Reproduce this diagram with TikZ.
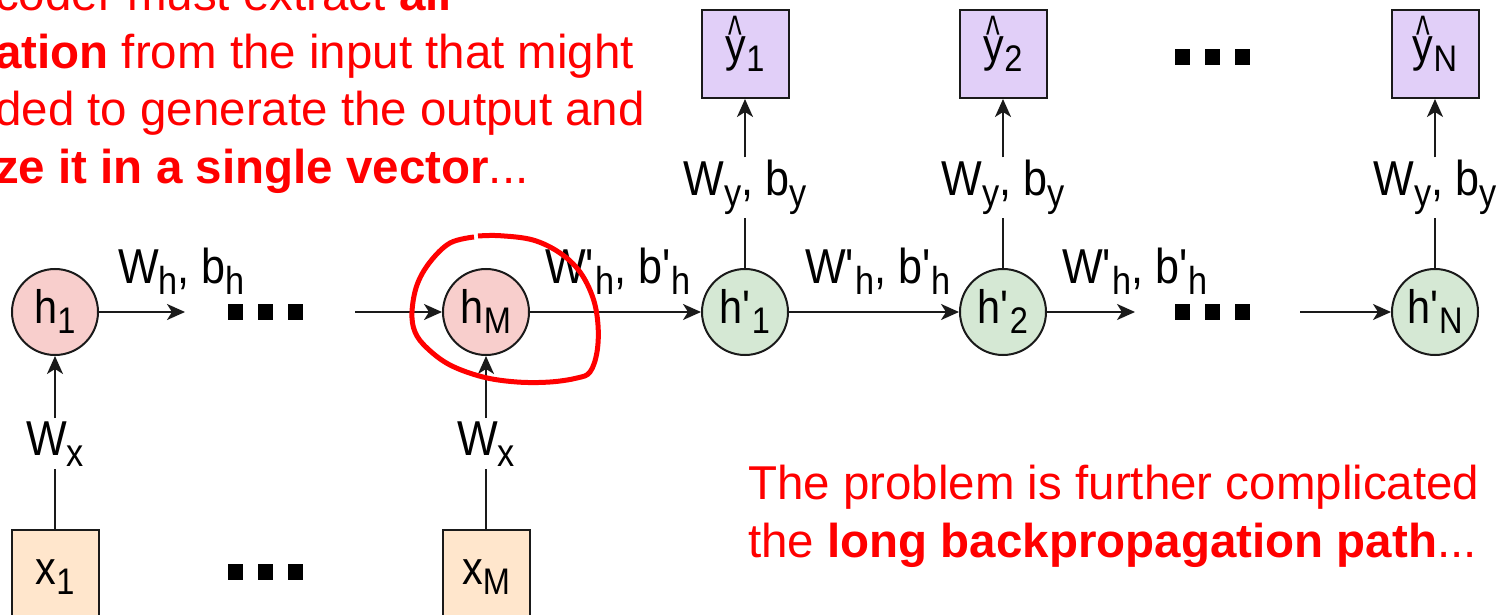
\documentclass[tikz,border=0pt]{standalone}
\usepackage{fontspec}
\usepackage{graphicx}
\setmainfont{Liberation Sans}
\newfontfamily\diagfont[FakeStretch=0.88]{Liberation Sans}
\usetikzlibrary{arrows.meta}
\definecolor{pinkf}{HTML}{F8CECC}
\definecolor{greenf}{HTML}{D5E8D4}
\definecolor{orangef}{HTML}{FFE6CC}
\definecolor{purplef}{HTML}{E1CFF8}
\definecolor{redt}{HTML}{FF0000}
\definecolor{ink}{HTML}{1A1A1A}
\newcommand{\nsub}[1]{\raisebox{-10pt}{\fontsize{37}{37}\selectfont #1}}
\newcommand{\lsub}[1]{\raisebox{-11pt}{\fontsize{39}{39}\selectfont #1}}
\newcommand{\sqdots}{\rule{15pt}{16pt}\hspace{15pt}\rule{15pt}{16pt}\hspace{15pt}\rule{15pt}{16pt}}
\newcommand{\yhat}{\makebox[0pt][l]{\makebox[20pt]{\raisebox{9pt}{\fontsize{44}{44}\selectfont\scalebox{0.75}[1.2]{\textasciicircum}}}}y}
\newcommand{\pr}{\textquotesingle}
\tikzset{
  hstate/.style={circle, draw=ink, line width=2pt, minimum size=86pt, inner sep=0pt,
    text height=33pt, text depth=10pt, font=\diagfont\fontsize{47}{47}\selectfont},
  enc/.style={hstate, fill=pinkf},
  dec/.style={hstate, fill=greenf},
  sqbox/.style={rectangle, draw=ink, line width=2pt, minimum width=87pt, minimum height=88pt, inner sep=0pt,
    font=\diagfont\fontsize{47}{47}\selectfont},
  inbox/.style={sqbox, fill=orangef, text height=30pt, text depth=10pt},
  outbox/.style={sqbox, fill=purplef, text height=36pt, text depth=20pt},
  wlabel/.style={font=\diagfont\fontsize{49}{49}\selectfont, inner sep=3pt, anchor=base},
  hlabel/.style={font=\diagfont\fontsize{49}{49}\selectfont, inner sep=0pt, anchor=base west},
  conn/.style={draw=ink, line width=2pt},
  arr/.style={conn, -{Stealth[length=18pt,width=16pt,inset=5pt]}},
  dots/.style={inner sep=0pt},
  note/.style={text=redt, font=\fontsize{47.5}{57.5}\selectfont, align=left, inner sep=0pt, anchor=north west},
  loop/.style={draw=redt, line width=5pt}
}
\begin{document}
\begin{tikzpicture}[x=1pt,y=-1pt]
\useasboundingbox (0,0) rectangle (1497,615);
\clip (0,0) rectangle (1497,615);
\fill[white] (0,0) rectangle (1497,615);

% red notes
\node[note] (n1) at (-5,-24) {coder must extract \textbf{all}\\
\textbf{ation} from the input that might\\
ded to generate the output and\\
\textbf{ze it in a single vector}...};
\node[note] (n2) at (748,465) {The problem is further complicated\\
the \textbf{long backpropagation path}...};

% encoder
\node[enc] (h1) at (55,312) {h\nsub{1}};
\node[enc] (hM) at (486,312) {h\nsub{M}};
\node[inbox] (x1) at (55,574) {x\nsub{1}};
\node[inbox] (xM) at (486,574) {x\nsub{M}};
\node[wlabel] (wx1) at (55,455) {W\lsub{x}};
\node[wlabel] (wxM) at (486,455) {W\lsub{x}};
\node[hlabel] (wh) at (118,283) {W\lsub{h}, b\lsub{h}};
\node[dots] (d1) at (265,312) {\sqdots};
\node[dots] (d2) at (265,572) {\sqdots};
\coordinate (c1) at (185,312);
\coordinate (c2) at (355,312);

% decoder
\node[dec] (hp1) at (745,312) {h\pr\nsub{1}};
\node[dec] (hp2) at (1003,312) {h\pr\nsub{2}};
\node[dec] (hpN) at (1435,312) {h\pr\nsub{N}};
\node[outbox] (y1) at (745,54) {\yhat\nsub{1}};
\node[outbox] (y2) at (1003,54) {\yhat\nsub{2}};
\node[outbox] (yN) at (1435,54) {\yhat\nsub{N}};
\node[wlabel] (wy1) at (745,196) {W\lsub{y}, b\lsub{y}};
\node[wlabel] (wy2) at (1003,196) {W\lsub{y}, b\lsub{y}};
\node[wlabel] (wyN) at (1435,196) {W\lsub{y}, b\lsub{y}};
\node[hlabel] (whp1) at (545,283) {W\pr\lsub{h}, b\pr\lsub{h}};
\node[hlabel] (whp2) at (805,283) {W\pr\lsub{h}, b\pr\lsub{h}};
\node[hlabel] (whp3) at (1062,283) {W\pr\lsub{h}, b\pr\lsub{h}};
\node[dots] (d3) at (1212,57) {\sqdots};
\node[dots] (d4) at (1212,312) {\sqdots};
\coordinate (c3) at (1135,312);
\coordinate (c4) at (1300,312);

% connectors
\draw[conn] (x1) -- (wx1);
\draw[arr] (wx1) -- (h1);
\draw[conn] (xM) -- (wxM);
\draw[arr] (wxM) -- (hM);
\draw[arr] (h1) -- (c1);
\draw[arr] (c2) -- (hM);
\draw[arr] (hM) -- (hp1);
\draw[arr] (hp1) -- (hp2);
\draw[arr] (hp2) -- (c3);
\draw[arr] (c4) -- (hpN);
\draw[conn] (hp1) -- (wy1);
\draw[arr] (wy1) -- (y1);
\draw[conn] (hp2) -- (wy2);
\draw[arr] (wy2) -- (y2);
\draw[conn] (hpN) -- (wyN);
\draw[arr] (wyN) -- (yN);

% hand-drawn red loop
\draw[loop] plot[smooth, tension=0.6] coordinates {(478,236) (500,235.7) (533,240) (560,253) (580,272) (593,298) (598,325) (597,352) (590,372) (577,378) (550,382) (517,382) (483,377) (450,365) (427,348) (415,332) (412,312) (417,285) (430,262) (450,243) (474,237)};
\end{tikzpicture}
\end{document}
